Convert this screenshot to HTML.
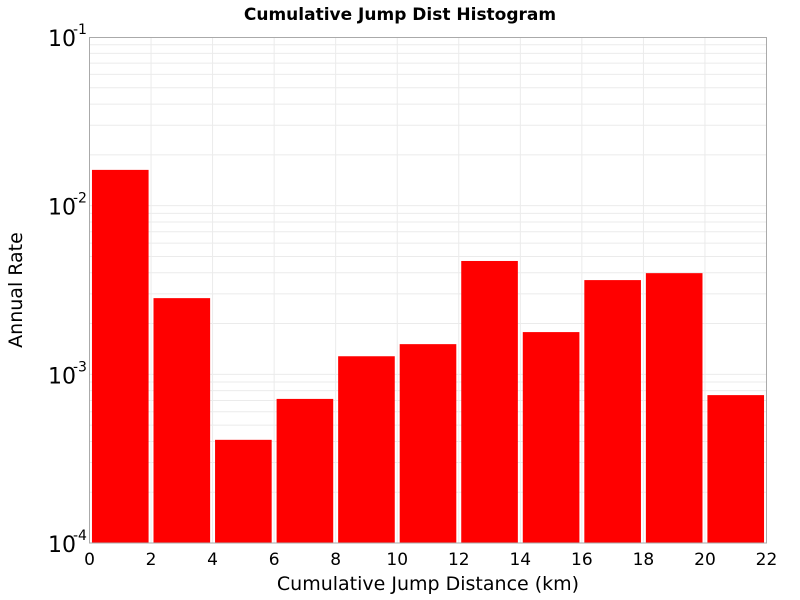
<!DOCTYPE html>
<html><head><meta charset="utf-8"><style>
html,body{margin:0;padding:0;background:#fff;}
svg{display:block;font-family:"DejaVu Sans","Liberation Sans",sans-serif;}
</style></head><body>
<svg id="chart" width="800" height="600">
<text x="400" y="20" text-anchor="middle" font-size="17" font-weight="bold">Cumulative Jump Dist Histogram</text>
<g id="grid"></g>
<g id="bars"></g>
<rect x="89.5" y="37.5" width="677" height="505.5" fill="none" stroke="#aaa"/>
<g id="xt"></g>
<g id="yt"></g>
<text x="428" y="590" text-anchor="middle" font-size="19">Cumulative Jump Distance (km)</text>
<text transform="translate(22,290) rotate(-90)" text-anchor="middle" font-size="19">Annual Rate</text>
</svg>
<script>
const binStarts=[0,2,4,6,8,10,12,14,16,18,20];
const rates=[0.0163,0.00283,0.000409,0.000715,0.00128,0.00151,0.0047,0.00178,0.00362,0.00398,0.000753];
const xTicks=[0,2,4,6,8,10,12,14,16,18,20,22];
const yExps=[-4,-3,-2,-1];
const binWidth=2;
const NS="http://www.w3.org/2000/svg";
const L=89.5,R=766.5,T=37,B=543,xMin=0,xMax=22,yMin=-4,yMax=-1;
const X=v=>L+(v-xMin)/(xMax-xMin)*(R-L);
const Y=v=>B-(Math.log10(v)-yMin)/(yMax-yMin)*(B-T);
function mk(t,a,p){const e=document.createElementNS(NS,t);for(const k in a)e.setAttribute(k,a[k]);p.appendChild(e);return e;}
const grid=document.getElementById('grid');
for(let e=yMin;e<yMax;e++){for(let m=1;m<10;m++){const y=Y(m*Math.pow(10,e));
const l=mk('line',{x1:L,x2:R,y1:y,y2:y,stroke:'#ebebeb','stroke-width':1},grid);

}}
xTicks.forEach(v=>{const x=X(v);
const l=mk('line',{x1:x,x2:x,y1:T,y2:B,stroke:'#ebebeb','stroke-width':1},grid);

});
const bars=document.getElementById('bars');
binStarts.forEach((s,i)=>{const x0=X(s+0.08),x1=X(s+binWidth-0.08),y=Y(rates[i]);
const r=mk('rect',{x:x0,y:y,width:x1-x0,height:B-y,fill:'#ff0000'},bars);

});
const xt=document.getElementById('xt');
xTicks.forEach(v=>{const t=mk('text',{x:X(v),y:565,'text-anchor':'middle','font-size':17},xt);t.textContent=v;

});
const yt=document.getElementById('yt');
yExps.forEach(e=>{const y=Y(Math.pow(10,e));
const t=mk('text',{x:48,y:y+9,'font-size':22},yt);t.textContent='10';


const s=mk('text',{x:73,y:y-3,'font-size':14},yt);s.textContent=String(e);

});
</script>
</body></html>
